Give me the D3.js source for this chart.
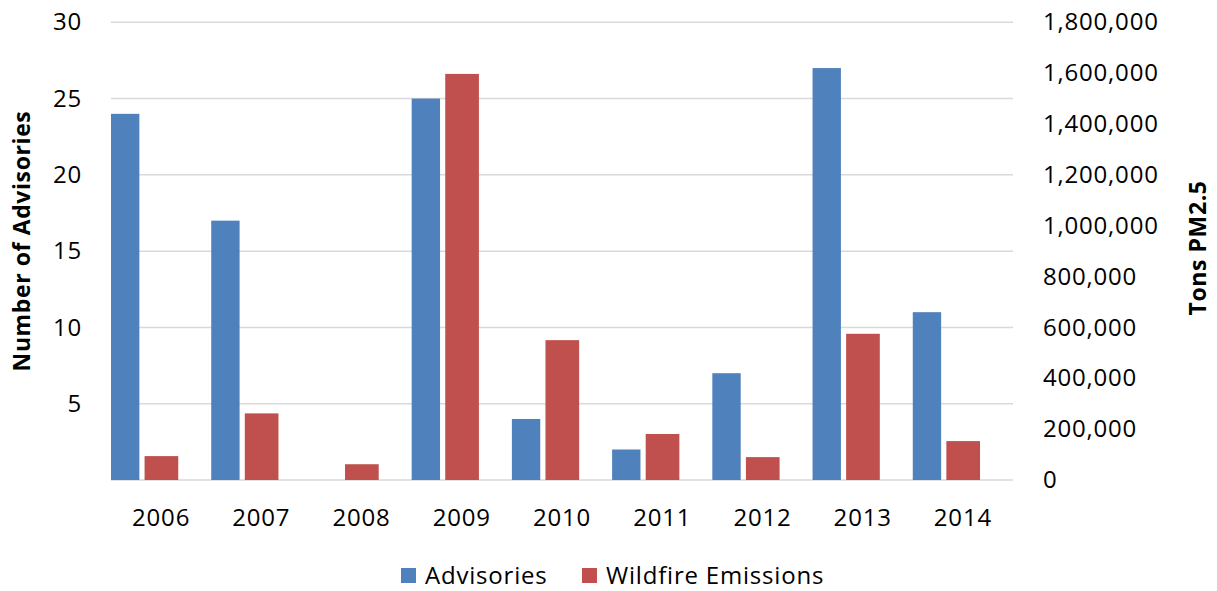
<!DOCTYPE html>
<html>
<head>
<meta charset="utf-8">
<script src="https://cdn.jsdelivr.net/npm/d3@7/dist/d3.min.js"></script>
<style>
  html, body { margin: 0; padding: 0; background: #fff; }
  svg text { font-family: "Open Sans", "Noto Sans", sans-serif; fill: #000; }
</style>
</head>
<body>
<svg id="chart" width="1217" height="591"></svg>
<script>
// Smoke advisories vs. wildfire PM2.5 emissions, by year
const years = ["2006", "2007", "2008", "2009", "2010", "2011", "2012", "2013", "2014"];
const advisories = [24, 17, 0, 25, 4, 2, 7, 27, 11];
const emissions = [94000, 262000, 62000, 1597000, 550000, 181000, 90000, 575000, 153000];
const leftTicks = [5, 10, 15, 20, 25, 30];
const rightTicks = [0, 200000, 400000, 600000, 800000, 1000000, 1200000, 1400000, 1600000, 1800000];
const seriesNames = ["Advisories", "Wildfire Emissions"];
const seriesColors = ["#4f81bd", "#c0504d"];

const svg = d3.select("#chart");
const plot = { left: 111, right: 1013, top: 22.3, bottom: 480 };
const labelFont = { size: 24, spacing: "0.8px" };

const x = d3.scaleBand().domain(years).range([plot.left, plot.right]).padding(0);
const yL = d3.scaleLinear().domain([0, 30]).range([plot.bottom, plot.top]);
const yR = d3.scaleLinear().domain([0, 1800000]).range([plot.bottom, plot.top]);

// horizontal gridlines (left axis)
svg.append("g")
  .selectAll("line")
  .data([0].concat(leftTicks))
  .join("line")
  .attr("x1", plot.left).attr("x2", plot.right)
  .attr("y1", d => yL(d)).attr("y2", d => yL(d))
  .attr("stroke", "#d9d9d9").attr("stroke-width", 1.5);

const bw = x.bandwidth();
// advisories bars (left axis)
svg.append("g")
  .selectAll("rect")
  .data(years.map((y, i) => ({ y, v: advisories[i] })))
  .join("rect")
  .attr("x", d => x(d.y))
  .attr("width", bw * 0.283)
  .attr("y", d => yL(d.v))
  .attr("height", d => yL(0) - yL(d.v))
  .attr("fill", seriesColors[0]);

// emissions bars (right axis)
svg.append("g")
  .selectAll("rect")
  .data(years.map((y, i) => ({ y, v: emissions[i] })))
  .join("rect")
  .attr("x", d => x(d.y) + bw * 0.335)
  .attr("width", bw * 0.336)
  .attr("y", d => yR(d.v))
  .attr("height", d => yR(0) - yR(d.v))
  .attr("fill", seriesColors[1]);

function styleLabels(g) {
  g.select(".domain").remove();
  g.selectAll("text")
    .attr("font-size", labelFont.size)
    .attr("letter-spacing", labelFont.spacing)
    .attr("font-family", "'Open Sans', sans-serif")
    .attr("fill", "#000");
}

// left axis labels
const leftAxis = d3.axisLeft(yL).tickValues(leftTicks).tickSize(0).tickPadding(0);
svg.append("g").attr("transform", "translate(82,0)").call(leftAxis).call(styleLabels);

// right axis labels
const rightAxis = d3.axisRight(yR).tickValues(rightTicks).tickSize(0).tickPadding(0)
  .tickFormat(d3.format(","));
svg.append("g").attr("transform", "translate(1043,0)").call(rightAxis).call(styleLabels);

// category axis labels
const bottomAxis = d3.axisBottom(x).tickSize(0).tickPadding(0);
svg.append("g").attr("transform", "translate(0,509)").call(bottomAxis).call(styleLabels);

// axis titles
svg.append("text")
  .attr("transform", "translate(30,241) rotate(-90)")
  .attr("text-anchor", "middle")
  .attr("font-size", 23).attr("font-weight", "bold").attr("letter-spacing", "0.6px")
  .text("Number of Advisories");
svg.append("text")
  .attr("transform", "translate(1206,248) rotate(-90)")
  .attr("text-anchor", "middle")
  .attr("font-size", 23).attr("font-weight", "bold").attr("letter-spacing", "0.6px")
  .text("Tons PM2.5");

// legend
const legendX = [401, 582];
const lg = svg.append("g");
seriesNames.forEach((name, i) => {
  lg.append("rect").attr("x", legendX[i]).attr("y", 568).attr("width", 15).attr("height", 15)
    .attr("fill", seriesColors[i]);
  lg.append("text").attr("x", legendX[i] + 24).attr("y", 584)
    .attr("font-size", labelFont.size).attr("letter-spacing", labelFont.spacing)
    .text(name);
});
</script>
</body>
</html>
